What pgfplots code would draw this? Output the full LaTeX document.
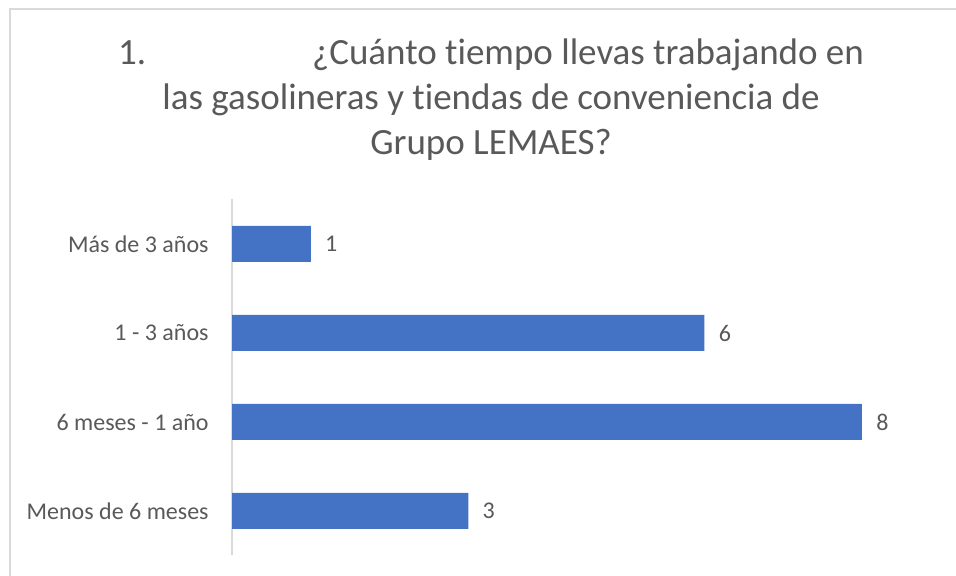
\documentclass[border=0pt]{standalone}
\usepackage{pgfplots}
\pgfplotsset{compat=1.18}
\usepackage{fontspec}
\setmainfont[Ligatures=NoCommon]{Carlito}
\definecolor{barblue}{HTML}{4472C4}
\definecolor{txtgray}{HTML}{595959}
\definecolor{linegray}{HTML}{D9D9D9}
\begin{document}
\begin{tikzpicture}
\useasboundingbox (0,0) rectangle (478pt,288pt);
\draw[linegray, line width=0.8pt] (5pt,0) -- (5pt,283.5pt) -- (478pt,283.5pt);
\node[anchor=base, text=txtgray, font=\fontsize{18.5pt}{22pt}\selectfont, inner sep=0] at (245.5pt,255.5pt) {1.\hspace{83pt}¿Cuánto tiempo llevas trabajando en};
\node[anchor=base, text=txtgray, font=\fontsize{18.5pt}{22pt}\selectfont, inner sep=0] at (245.5pt,233pt) {las gasolineras y tiendas de conveniencia de};
\node[anchor=base, text=txtgray, font=\fontsize{18.5pt}{22pt}\selectfont, inner sep=0] at (245.5pt,210.5pt) {Grupo LEMAES?};
\begin{axis}[
  at={(116pt,10.25pt)}, anchor=south west,
  scale only axis, width=315pt, height=178pt,
  xbar, bar width=18pt,
  xmin=0, xmax=8, ymin=-0.5, ymax=3.5,
  hide x axis,
  axis y line*=left,
  y axis line style={linegray, line width=0.8pt, -},
  ytick={0,1,2,3},
  yticklabels={Menos de 6 meses,6 meses - 1 año,1 - 3 años,Más de 3 años},
  major tick length=0pt,
  /pgf/number format/assume math mode=true,
  yticklabel style={text=txtgray, font=\fontsize{12pt}{14pt}\selectfont, anchor=east, xshift=-11.5pt, inner sep=0},
  nodes near coords,
  every node near coord/.append style={text=txtgray, font=\fontsize{12pt}{14pt}\selectfont, anchor=west, xshift=7pt, inner sep=0},
  clip=false,
]
\addplot[fill=barblue, draw=none] coordinates {(3,0) (8,1) (6,2) (1,3)};
\end{axis}
\end{tikzpicture}
\end{document}
